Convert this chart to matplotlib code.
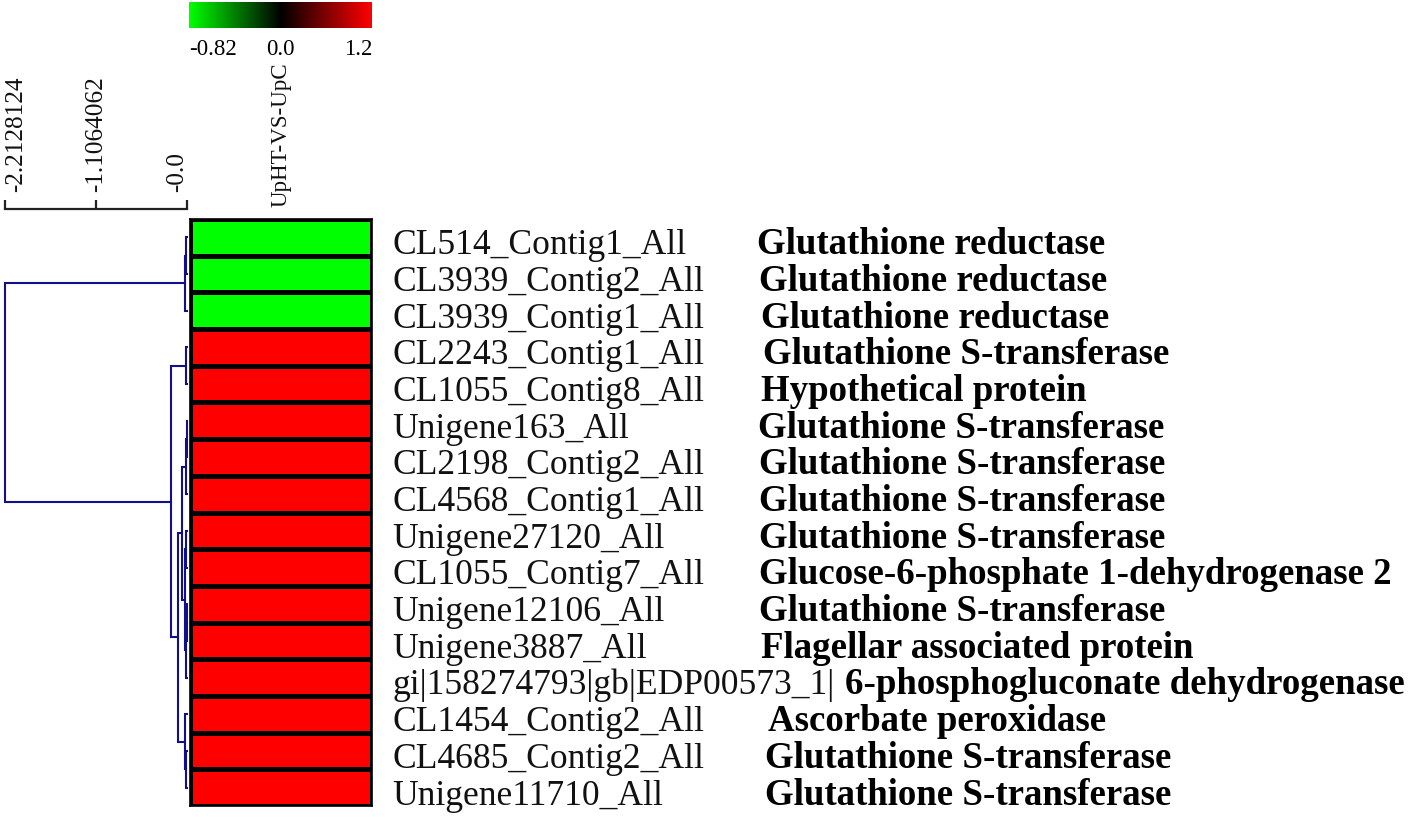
import numpy as np
import matplotlib
matplotlib.use("Agg")
import matplotlib.pyplot as plt
from matplotlib.colors import LinearSegmentedColormap, TwoSlopeNorm
from matplotlib.cm import ScalarMappable
from matplotlib.transforms import blended_transform_factory

# ---------------- data ----------------
gene_ids = [
    "CL514_Contig1_All", "CL3939_Contig2_All", "CL3939_Contig1_All",
    "CL2243_Contig1_All", "CL1055_Contig8_All", "Unigene163_All",
    "CL2198_Contig2_All", "CL4568_Contig1_All", "Unigene27120_All",
    "CL1055_Contig7_All", "Unigene12106_All", "Unigene3887_All",
    "gi|158274793|gb|EDP00573_1|", "CL1454_Contig2_All", "CL4685_Contig2_All",
    "Unigene11710_All",
]
descriptions = [
    "Glutathione reductase", "Glutathione reductase", "Glutathione reductase",
    "Glutathione S-transferase", "Hypothetical protein", "Glutathione S-transferase",
    "Glutathione S-transferase", "Glutathione S-transferase", "Glutathione S-transferase",
    "Glucose-6-phosphate 1-dehydrogenase 2", "Glutathione S-transferase",
    "Flagellar associated protein", "6-phosphogluconate dehydrogenase",
    "Ascorbate peroxidase", "Glutathione S-transferase", "Glutathione S-transferase",
]
values = [-0.82, -0.82, -0.82,
          1.2, 1.2, 1.2, 1.2, 1.2, 1.2, 1.2, 1.2, 1.2, 1.2, 1.2, 1.2, 1.2]
column_label = "UpHT-VS-UpC"
cbar_ticks = [-0.82, 0.0, 1.2]
cbar_ticklabels = ["-0.82", "0.0", "1.2"]
scale_ticks = [-2.2128124, -1.1064062, 0.0]
scale_ticklabels = ["-2.2128124", "-1.1064062", "-0.0"]
# hierarchical merges: (child_a, child_b, distance); leaves are 0..15, new nodes 16, 17, ...
merges = [
    (0, 1, 0.012),
    (16, 2, 0.024),
    (3, 4, 0.012),
    (5, 6, 0.006),
    (19, 7, 0.018),
    (8, 9, 0.012),
    (10, 11, 0.006),
    (22, 12, 0.018),
    (21, 23, 0.024),
    (20, 24, 0.064),
    (14, 15, 0.012),
    (13, 26, 0.024),
    (25, 27, 0.109),
    (18, 28, 0.195),
    (17, 29, 2.2128124),
]

# ---------------- layout ----------------
W, H = 1418, 817
fig = plt.figure(figsize=(W / 100, H / 100), dpi=100)
plt.rcParams["font.family"] = ["Liberation Serif", "DejaVu Serif"]


def px_rect(x0, y0, x1, y1):
    return [x0 / W, 1 - y1 / H, (x1 - x0) / W, (y1 - y0) / H]


cmap = LinearSegmentedColormap.from_list("gbr", ["#00ff00", "#000000", "#ff0000"])
norm = TwoSlopeNorm(vmin=cbar_ticks[0], vcenter=cbar_ticks[1], vmax=cbar_ticks[2])

n = len(gene_ids)
hm_top, hm_bot = 219, 806

# heatmap
ax_h = fig.add_axes(px_rect(190, hm_top, 372, hm_bot))
ax_h.pcolormesh(np.array(values).reshape(-1, 1), cmap=cmap, norm=norm,
                edgecolors="black", linewidth=2.4)
ax_h.set_ylim(n, 0)
ax_h.set_xlim(0, 1)
ax_h.set_xticks([])
ax_h.set_yticks([])
for s in ax_h.spines.values():
    s.set_linewidth(1.2)
    s.set_color("black")

# dendrogram
ax_d = fig.add_axes(px_rect(5, hm_top, 187, hm_bot))
ax_d.set_xlim(scale_ticks[0], 0)
ax_d.set_ylim(n, 0)
ax_d.axis("off")
pos = {i: (0.0, i + 0.5) for i in range(n)}
for k, (a, b, d) in enumerate(merges):
    ha_, ya = pos[a]
    hb_, yb = pos[b]
    ax_d.plot([ha_, -d, -d, hb_], [ya, ya, yb, yb], color="#10108c", lw=1.5,
              solid_joinstyle="miter", clip_on=False)
    pos[n + k] = (-d, (ya + yb) / 2)

# scale bar
ax_s = fig.add_axes(px_rect(5, 150, 187, 209))
ax_s.set_xlim(scale_ticks[0], 0)
ax_s.set_ylim(0, 1)
for side in ["top", "left", "right"]:
    ax_s.spines[side].set_visible(False)
ax_s.spines["bottom"].set_linewidth(1.6)
ax_s.spines["bottom"].set_color("#222222")
ax_s.set_yticks([])
ax_s.set_xticks(scale_ticks)
ax_s.tick_params(axis="x", direction="in", length=6.5, width=1.6, color="#222222",
                 labelbottom=False)
ax_s.patch.set_visible(False)
label_px = [16, 96, 177]
for lx, lab in zip(label_px, scale_ticklabels):
    fig.text(lx / W, 1 - 192 / H, lab, rotation=90, ha="center", va="bottom",
             fontsize=18.2, color="#111111")

# column label
fig.text(281 / W, 1 - 207 / H, column_label, rotation=90, ha="center", va="bottom",
         fontsize=16.6, color="#111111")

# colour bar
cax = fig.add_axes(px_rect(189, 2, 372, 28))
cb = fig.colorbar(ScalarMappable(norm=norm, cmap=cmap), cax=cax,
                  orientation="horizontal", ticks=cbar_ticks)
cb.set_ticklabels(cbar_ticklabels)
cb.outline.set_visible(False)
cax.tick_params(axis="x", length=0, pad=8, labelsize=16.5)
lbls = cax.get_xticklabels()
lbls[0].set_ha("left")
lbls[-1].set_ha("right")

# row labels
tr = blended_transform_factory(fig.transFigure, ax_h.transData)
desc_x = [757, 759, 761, 763, 761, 758, 759, 759, 759, 759, 759, 761, 845, 768, 765, 765]
for i in range(n):
    fig.text(392 / W, i + 0.96, gene_ids[i], transform=tr, ha="left", va="baseline",
             fontsize=25.6, color="#111111")
    fig.text(desc_x[i] / W, i + 0.96, descriptions[i], transform=tr, ha="left",
             va="baseline", fontsize=26.6, fontweight="bold", color="black")

fig.savefig("out.png", dpi=100)
